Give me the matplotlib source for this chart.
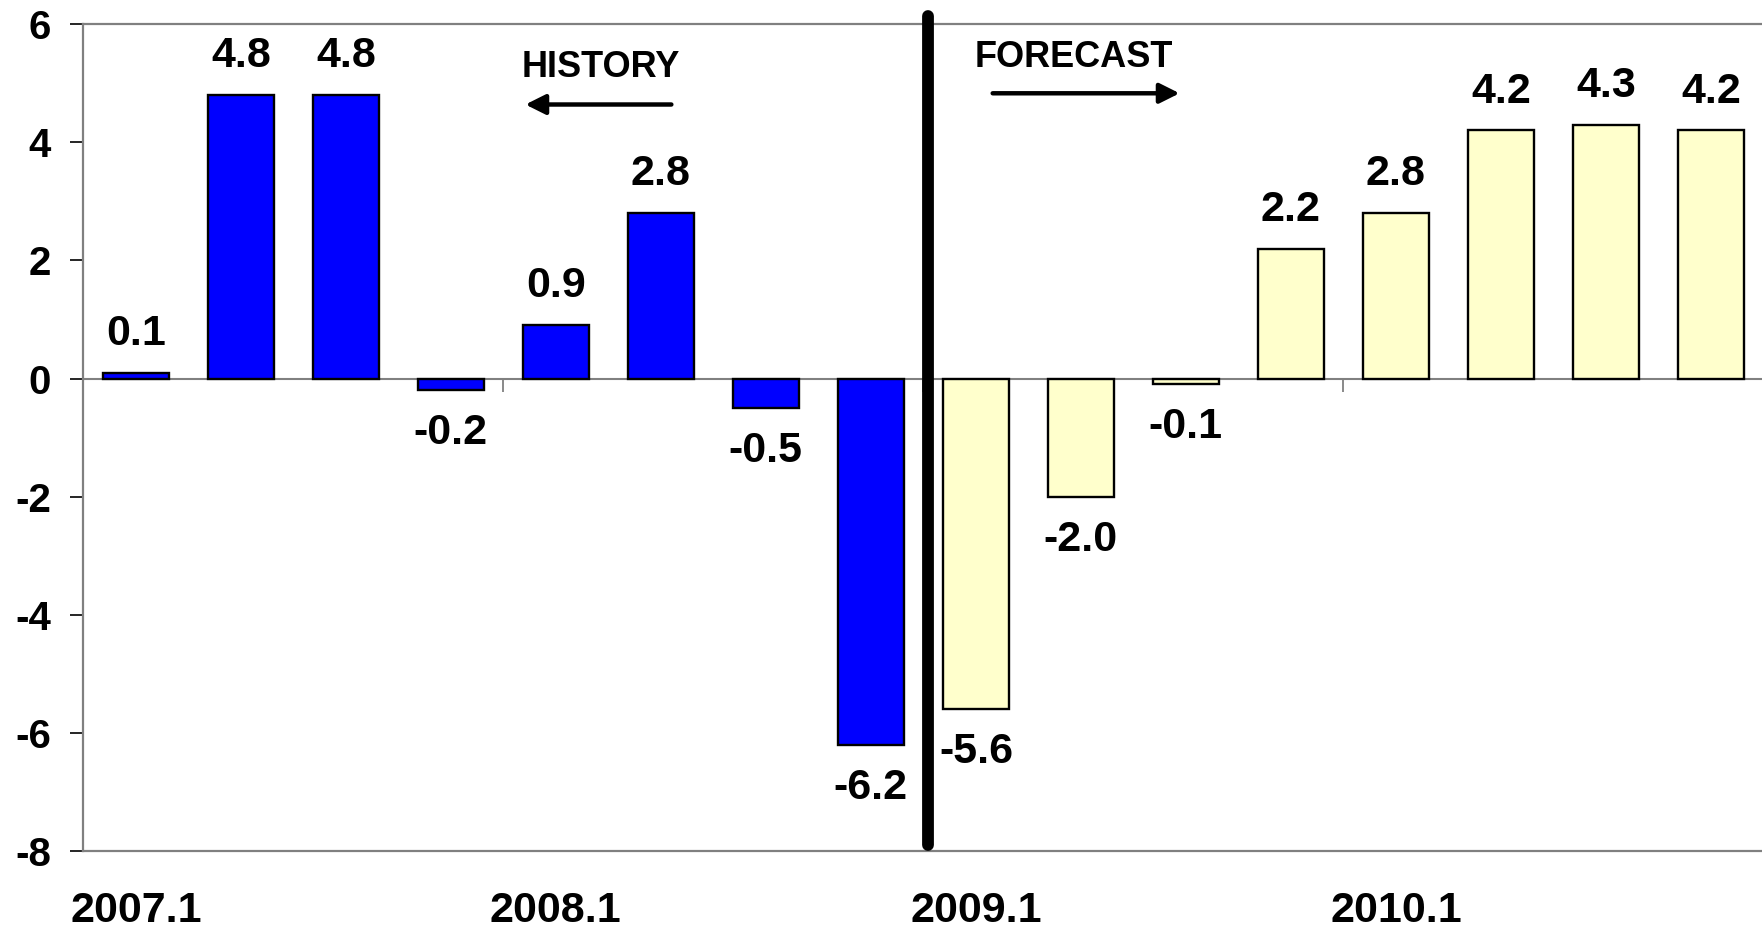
import matplotlib
matplotlib.use("Agg")
import matplotlib.pyplot as plt
from matplotlib.markers import TICKDOWN

plt.rcParams['font.family'] = ['Liberation Sans', 'DejaVu Sans']
plt.rcParams['font.weight'] = 'bold'
plt.rcParams['axes.unicode_minus'] = False

# === data ===
quarters = ["2007.1", "2007.2", "2007.3", "2007.4",
            "2008.1", "2008.2", "2008.3", "2008.4",
            "2009.1", "2009.2", "2009.3", "2009.4",
            "2010.1", "2010.2", "2010.3", "2010.4"]
growth = [0.1, 4.8, 4.8, -0.2, 0.9, 2.8, -0.5, -6.2,
          -5.6, -2.0, -0.1, 2.2, 2.8, 4.2, 4.3, 4.2]
n_history = 8
year_labels = ["2007.1", "2008.1", "2009.1", "2010.1"]
y_ticks = [-8, -6, -4, -2, 0, 2, 4, 6]

blue = "#0000FF"
pale = "#FFFFCC"
gray = "#808080"

x = list(range(len(quarters)))
colors = [blue if i < n_history else pale for i in x]

fig = plt.figure(figsize=(17.62, 9.34), dpi=100)
ax = fig.add_axes([0.0473, 0.0889, 0.9535, 0.8852])

ax.axhline(0, color=gray, lw=1.5, zorder=1)
ax.bar(x, growth, width=0.635, color=colors, edgecolor="black", linewidth=1.7, zorder=2)

# value labels
for xi, v in zip(x, growth):
    off = 28 if v >= 0 else -31
    ax.annotate(f"{v:.1f}", (xi, v), xytext=(0, off), textcoords="offset points",
                ha="center", va="center", fontsize=31, fontweight="bold", zorder=3,
                bbox=dict(boxstyle="square,pad=0.12", fc="white", ec="none"))

# year separator ticks on the zero line
year_starts = [quarters.index(y) for y in year_labels]
sep = [s - 0.5 for s in year_starts[1:]]
ax.plot(sep, [0] * len(sep), ls="none", marker=TICKDOWN, ms=9.4, mew=1.3, color=gray, zorder=1)

# history / forecast divider (drawn a touch right of the category edge, as in the original)
div_x = n_history - 0.46
ax.plot([div_x, div_x], [-7.9, 6.14], color="black", lw=8.5,
        solid_capstyle="round", clip_on=False, zorder=4)

ax.text(4.43, 5.27, "HISTORY", ha="center", va="center", fontsize=26, fontweight="bold")
ax.annotate("", xy=(3.71, 4.64), xytext=(5.10, 4.64),
            arrowprops=dict(arrowstyle="-|>,head_length=0.6,head_width=0.3", lw=3.2,
                            color="black", mutation_scale=20, shrinkA=0, shrinkB=0))
ax.text(8.93, 5.44, "FORECAST", ha="center", va="center", fontsize=26, fontweight="bold")
ax.annotate("", xy=(9.94, 4.83), xytext=(8.16, 4.83),
            arrowprops=dict(arrowstyle="-|>,head_length=0.6,head_width=0.3", lw=3.2,
                            color="black", mutation_scale=20, shrinkA=0, shrinkB=0))

ax.set_xlim(-0.5, len(quarters) - 0.5)
ax.set_ylim(-8, 6)
ax.set_yticks(y_ticks)
ax.set_yticklabels([str(t) for t in y_ticks], fontsize=29, fontweight="bold")
ax.set_xticks(year_starts)
ax.set_xticklabels(year_labels, fontsize=31, fontweight="bold")
ax.tick_params(axis="x", length=0, pad=29)
ax.tick_params(axis="y", direction="out", length=9.4, width=1.2, color="black", pad=14)

for side in ["left", "top", "bottom"]:
    ax.spines[side].set_color(gray)
    ax.spines[side].set_linewidth(1.6)
ax.spines["right"].set_visible(False)

fig.savefig("out.png", dpi=100)
